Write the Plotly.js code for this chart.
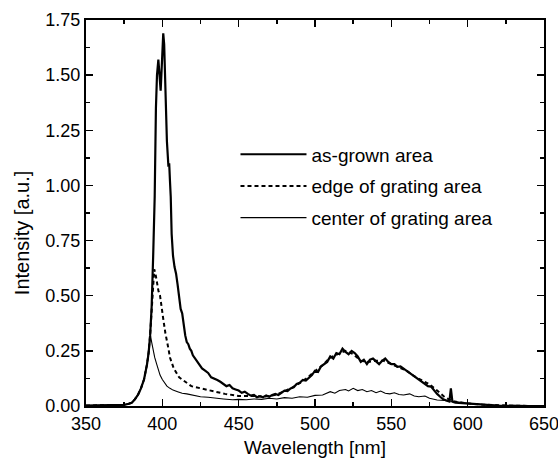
<!DOCTYPE html>
<html>
<head>
<meta charset="utf-8">
<script src="https://cdn.plot.ly/plotly-3.0.1.min.js"></script>
<style>html,body{margin:0;padding:0;background:#fff;}#chart{width:558px;height:466px;}</style>
</head>
<body>
<div id="chart"></div>
<script>
// ---- data ----
var seriesNames = ["as-grown area", "edge of grating area", "center of grating area"];

var asGrownX = [350,360,370,375,378,380,382,384,386,388,390,391,392,393,394,395,395.8,396.5,397.4,398,398.9,399.5,400,400.6,401.2,402.2,403,404,404.5,405,405.5,406.1,407,408,409,410,411,412,413,414,415,416,417,418,419,420,422,424,426,428,430,432,434,436,438,440,442,444,446,448,450,452,454,456,458,460,462,464,466,468,470,472,474,476,478,480,482,484,486,488,490,492,494,496,498,500,502,504,506,508,510,512,514,516,518,520,522,524,526,528,530,532,534,536,538,540,542,544,546,548,550,552,554,556,558,560,562,564,566,568,570,572,574,576,578,580,582,584,586,588,589,590,592,595,600,605,610,615,620,625,630,640,650];
var asGrownY = [0.002,0.003,0.004,0.005,0.01,0.015,0.03,0.05,0.08,0.12,0.19,0.24,0.32,0.45,0.68,0.95,1.35,1.5,1.57,1.5,1.43,1.52,1.58,1.69,1.64,1.39,1.2,1.085,1.1,1.02,0.95,0.78,0.68,0.63,0.6,0.55,0.5,0.44,0.42,0.36,0.32,0.29,0.28,0.26,0.25,0.23,0.21,0.195,0.17,0.16,0.15,0.13,0.125,0.118,0.11,0.1,0.09,0.095,0.08,0.075,0.07,0.06,0.065,0.055,0.047,0.05,0.04,0.045,0.04,0.048,0.042,0.05,0.055,0.05,0.06,0.07,0.068,0.08,0.085,0.1,0.105,0.118,0.115,0.13,0.14,0.16,0.155,0.18,0.19,0.2,0.225,0.215,0.24,0.235,0.26,0.245,0.235,0.25,0.24,0.225,0.2,0.21,0.19,0.21,0.215,0.2,0.19,0.205,0.215,0.2,0.19,0.19,0.178,0.18,0.17,0.16,0.15,0.14,0.133,0.12,0.11,0.1,0.09,0.088,0.07,0.055,0.042,0.03,0.025,0.02,0.08,0.02,0.015,0.014,0.012,0.008,0.006,0.004,0.002,0.001,0.001,0.0,0.0];

var edgeX = [350,360,370,375,378,380,382,384,386,388,390,391,392,393,394,394.7,395.5,396.5,397.5,398.5,399.5,400.7,402,403,404,405,406,407.5,409.4,411,413,416,419,422,425,429,433,437,441,446,450,455,460,465,470,475,480,485,490,495,500,505,510,515,520,525,530,535,540,545,550,555,560,565,570,575,580,585,590,595,600,610,620,630,650];
var edgeY = [0.002,0.003,0.004,0.005,0.01,0.015,0.03,0.05,0.08,0.12,0.19,0.24,0.32,0.44,0.56,0.62,0.6,0.55,0.52,0.5,0.44,0.39,0.33,0.3,0.26,0.22,0.2,0.17,0.148,0.13,0.12,0.103,0.09,0.085,0.08,0.073,0.065,0.06,0.055,0.05,0.045,0.045,0.046,0.042,0.045,0.052,0.068,0.083,0.104,0.128,0.158,0.185,0.22,0.235,0.25,0.235,0.205,0.2,0.205,0.205,0.19,0.178,0.16,0.135,0.115,0.098,0.07,0.04,0.022,0.016,0.012,0.006,0.002,0.001,0.0];

var centerX = [350,360,370,375,378,380,382,384,386,388,389.7,391,392.3,393,394,395,396.3,397.5,398.5,400,401.5,403,405,407,410,413,416,420,425,430,435,440,446,450,455,460,465,470,475,480,485,490,495,500,505,508,510,513,516,520,522,525,528,531,534,537,540,543,546,549,552,555,558,562,565,568,572,575,580,585,590,595,600,605,610,615,620,625,630,650];
var centerY = [0.002,0.003,0.004,0.005,0.01,0.015,0.03,0.05,0.08,0.12,0.18,0.25,0.317,0.29,0.25,0.22,0.19,0.16,0.14,0.12,0.105,0.09,0.08,0.072,0.065,0.058,0.055,0.048,0.042,0.04,0.035,0.032,0.028,0.03,0.028,0.032,0.03,0.035,0.032,0.038,0.035,0.042,0.04,0.048,0.05,0.06,0.065,0.058,0.07,0.075,0.068,0.08,0.07,0.075,0.065,0.07,0.06,0.068,0.058,0.055,0.06,0.052,0.05,0.055,0.045,0.042,0.045,0.035,0.027,0.025,0.02,0.015,0.012,0.009,0.006,0.004,0.002,0.001,0.0,0.0];

var xTickVals = [350,400,450,500,550,600,650];
var yTickVals = [0,0.25,0.5,0.75,1.0,1.25,1.5,1.75];
var yTickText = ["0.00","0.25","0.50","0.75","1.00","1.25","1.50","1.75"];
var xTitle = "Wavelength [nm]";
var yTitle = "Intensity [a.u.]";

var FONT = "Liberation Sans, Arial, Helvetica, sans-serif";

var traces = [
  {x: asGrownX, y: asGrownY, name: seriesNames[0], mode: "lines", legendgroup: "a",
   line: {color: "#000", width: 2.2}},
  {x: edgeX, y: edgeY, name: seriesNames[1], mode: "lines", legendgroup: "b",
   line: {color: "#000", width: 2, dash: "4px,3px"}},
  {x: centerX, y: centerY, name: seriesNames[2], mode: "lines", legendgroup: "c",
   line: {color: "#000", width: 1.1}}
];

var axisCommon = {
  showgrid: false, zeroline: false, showline: true, linecolor: "#000", linewidth: 2,
  mirror: "allticks", ticks: "inside", ticklen: 7, tickwidth: 1.5, tickcolor: "#000",
  ticklabeloverflow: "allow",
  tickfont: {family: FONT, size: 18, color: "#000"}
};

var layout = {
  width: 558, height: 466,
  margin: {l: 86, r: 14, t: 20, b: 60},
  paper_bgcolor: "#fff", plot_bgcolor: "#fff",
  font: {family: FONT, color: "#000"},
  showlegend: true,
  legend: {x: 0.3264, y: 0.701, xanchor: "left", yanchor: "top", bgcolor: "rgba(0,0,0,0)",
           font: {family: FONT, size: 19, color: "#000"}, itemwidth: 66, tracegroupgap: 4},
  xaxis: Object.assign({}, axisCommon, {
    range: [350, 650], tickvals: xTickVals,
    minor: {dtick: 25, ticks: "inside", ticklen: 4, tickwidth: 1.5, tickcolor: "#000"},
    title: {text: xTitle, font: {family: FONT, size: 19, color: "#000"}, standoff: 8}
  }),
  yaxis: Object.assign({}, axisCommon, {
    range: [0, 1.75], tickvals: yTickVals, ticktext: yTickText,
    minor: {dtick: 0.125, ticks: "inside", ticklen: 4, tickwidth: 1.5, tickcolor: "#000"}
  }),
  annotations: [
    {text: yTitle, xref: "paper", yref: "paper", x: -0.14, y: 0.45, xanchor: "center", yanchor: "middle",
     textangle: -90, showarrow: false, font: {family: FONT, size: 20, color: "#000"}}
  ]
};

Plotly.newPlot("chart", traces, layout, {displayModeBar: false, staticPlot: true});
</script>
</body>
</html>
